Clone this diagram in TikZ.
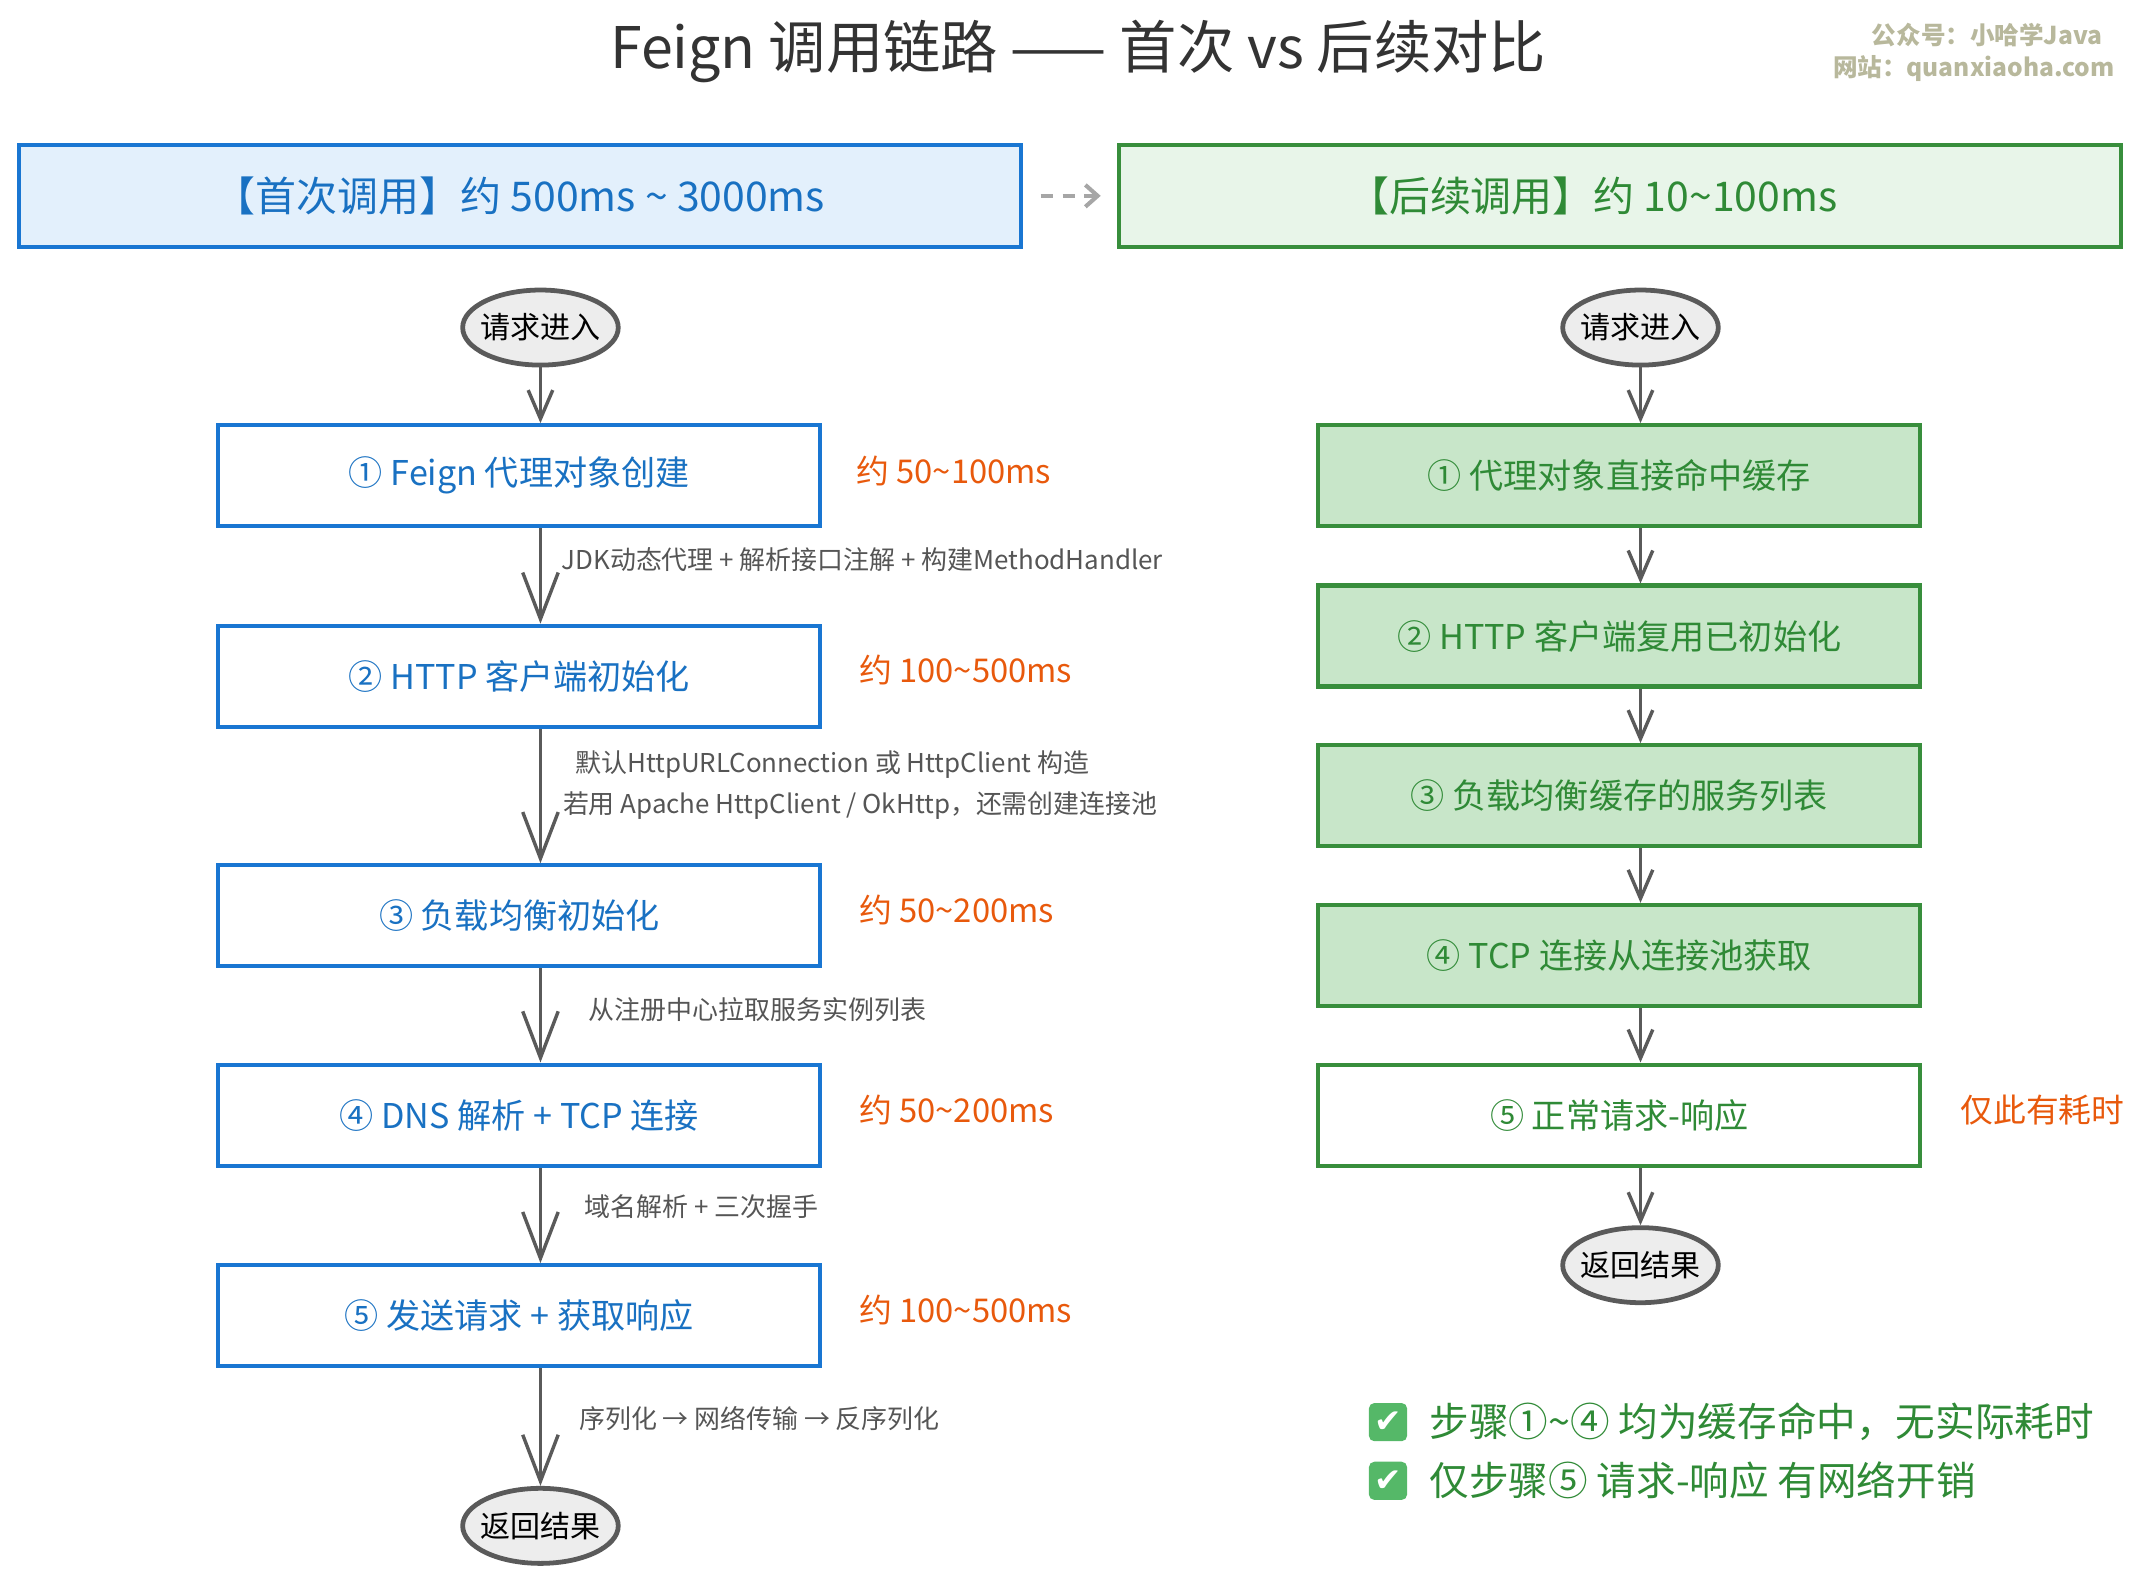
\documentclass[tikz,border=0pt]{standalone}
\usepackage{fontspec}
\setmainfont{Noto Sans CJK SC}
\newfontfamily\symfont{DejaVu Sans}
\usepackage{tikz}
\usetikzlibrary{arrows.meta,shapes.geometric}

\definecolor{bluebd}{HTML}{1976D2}
\definecolor{bluetx}{HTML}{1971C2}
\definecolor{bluebg}{HTML}{E3F0FC}
\definecolor{greenbd}{HTML}{388E3C}
\definecolor{greentx}{HTML}{2F8A36}
\definecolor{greenbg}{HTML}{E8F5E9}
\definecolor{greenfill}{HTML}{C8E6C9}
\definecolor{orangetx}{HTML}{E8590C}
\definecolor{greytx}{HTML}{555555}
\definecolor{linegrey}{HTML}{5A5A5A}
\definecolor{markgrey}{HTML}{B8B89C}
\definecolor{tickgreen}{HTML}{55B868}

\tikzset{
  header/.style={draw, line width=3pt, minimum width=734pt, minimum height=75pt, font=\fontsize{30}{34}\selectfont},
  firstbox/.style={draw=bluebd, line width=3pt, fill=white, text=bluetx, minimum width=441pt, minimum height=74pt, font=\fontsize{25}{30}\selectfont},
  nextbox/.style={firstbox, draw=greenbd, fill=greenfill, text=greentx},
  lastbox/.style={firstbox, draw=greenbd, text=greentx},
  terminal/.style={ellipse, draw=linegrey, line width=3.5pt, fill=black!7, minimum width=114pt, minimum height=55pt, inner xsep=-4pt, inner ysep=0pt, font=\fontsize{22}{26}\selectfont},
  cost/.style={anchor=west, text=orangetx, font=\fontsize{24}{28}\selectfont},
  note/.style={anchor=west, text=greytx, font=\fontsize{19}{30}\selectfont, align=left},
  flow/.style={draw=linegrey, line width=2.5pt, -{Straight Barb[length=21pt,width=18pt]}},
  longflow/.style={draw=linegrey, line width=2.5pt, -{Straight Barb[length=34pt,width=26pt]}},
  tick/.style={fill=tickgreen, rounded corners=4pt, minimum size=28pt, inner sep=0pt, text=white, font=\symfont\fontsize{24}{24}\selectfont},
  check/.style={anchor=west, text=greentx, font=\fontsize{29}{33}\selectfont},
}

\begin{document}
\begin{tikzpicture}[x=1pt,y=-1pt]
\useasboundingbox (0,0) rectangle (1568,1162);
\node(t)[text=black!80, font=\fontsize{42}{48}\selectfont] at (790,38) {Feign 调用链路 —— 首次 vs 后续对比};
\node(w1)[anchor=east, text=markgrey, font=\bfseries\fontsize{18}{20}\selectfont] at (1544,26) {公众号：小哈学Java};
\node(w2)[anchor=east, text=markgrey, font=\bfseries\fontsize{18}{20}\selectfont] at (1553,50) {网站：quanxiaoha.com};

\node(h1)[header, draw=bluebd, fill=bluebg, text=bluetx] at (381,143.5) {【首次调用】约 500ms \textasciitilde{} 3000ms};
\node(h2)[header, draw=greenbd, fill=greenbg, text=greentx] at (1187,143.5) {【后续调用】约 10\textasciitilde{}100ms\hspace*{40pt}};
\draw[black!35, line width=3pt, dash pattern=on 9pt off 7pt, shorten <=13pt, shorten >=12pt, -{Straight Barb[length=9pt,width=16pt]}] (h1) -- (h2);

\node(a)[terminal] at (396,240) {请求进入};
\node(b)[firstbox] at (380.5,348.5) {① Feign 代理对象创建};
\node(c)[firstbox] at (380.5,495.5) {② HTTP 客户端初始化};
\node(d)[firstbox] at (380.5,671) {③ 负载均衡初始化};
\node(e)[firstbox] at (380.5,817) {④ DNS 解析 + TCP 连接};
\node(f)[firstbox] at (380.5,964) {⑤ 发送请求 + 获取响应};
\node(g)[terminal] at (396,1118) {返回结果};

\draw[flow] (a) -- (a |- b.north);
\draw[longflow] (b.south -| a) -- (c.north -| a);
\draw[longflow] (c.south -| a) -- (d.north -| a);
\draw[longflow] (d.south -| a) -- (e.north -| a);
\draw[longflow] (e.south -| a) -- (f.north -| a);
\draw[longflow] (f.south -| a) -- (g);

\node(b1)[cost] at (624,345) {约 50\textasciitilde{}100ms};
\node(c1)[cost] at (626,491) {约 100\textasciitilde{}500ms};
\node(d1)[cost] at (626,667) {约 50\textasciitilde{}200ms};
\node(e1)[cost] at (626,813) {约 50\textasciitilde{}200ms};
\node(f1)[cost] at (626,960) {约 100\textasciitilde{}500ms};

\node(b2)[note] at (408,410) {JDK动态代理 + 解析接口注解 + 构建MethodHandler};
\node(c2)[note] at (409,575) {\hspace*{9pt}默认HttpURLConnection 或 HttpClient 构造\\若用 Apache HttpClient / OkHttp，还需创建连接池};
\node(d2)[note] at (428,740) {从注册中心拉取服务实例列表};
\node(e2)[note] at (425,884) {域名解析 + 三次握手};
\node(f2)[note] at (421,1039) {序列化 → 网络传输 → 反序列化};

\node(h)[terminal] at (1202,240) {请求进入};
\node(i)[nextbox] at (1186.5,348.5) {① 代理对象直接命中缓存};
\node(j)[nextbox] at (1186.5,466) {② HTTP 客户端复用已初始化};
\node(k)[nextbox] at (1186.5,583) {③ 负载均衡缓存的服务列表};
\node(l)[nextbox] at (1186.5,700) {④ TCP 连接从连接池获取};
\node(m)[lastbox] at (1186.5,817) {⑤ 正常请求-响应};
\node(n)[terminal] at (1202,927) {返回结果};

\draw[flow] (h) -- (h |- i.north);
\draw[flow] (i.south -| h) -- (j.north -| h);
\draw[flow] (j.south -| h) -- (k.north -| h);
\draw[flow] (k.south -| h) -- (l.north -| h);
\draw[flow] (l.south -| h) -- (m.north -| h);
\draw[flow] (m.south -| h) -- (n);

\node(m1)[cost] at (1433,813) {仅此有耗时};

\node(p)[tick] at (1017,1042) {✔};
\node(q)[tick] at (1017,1085) {✔};
\node(p1)[check] at (1044,1042) {步骤①\textasciitilde{}④ 均为缓存命中，无实际耗时};
\node(q1)[check] at (1044,1085) {仅步骤⑤ 请求-响应 有网络开销};
\end{tikzpicture}
\end{document}
